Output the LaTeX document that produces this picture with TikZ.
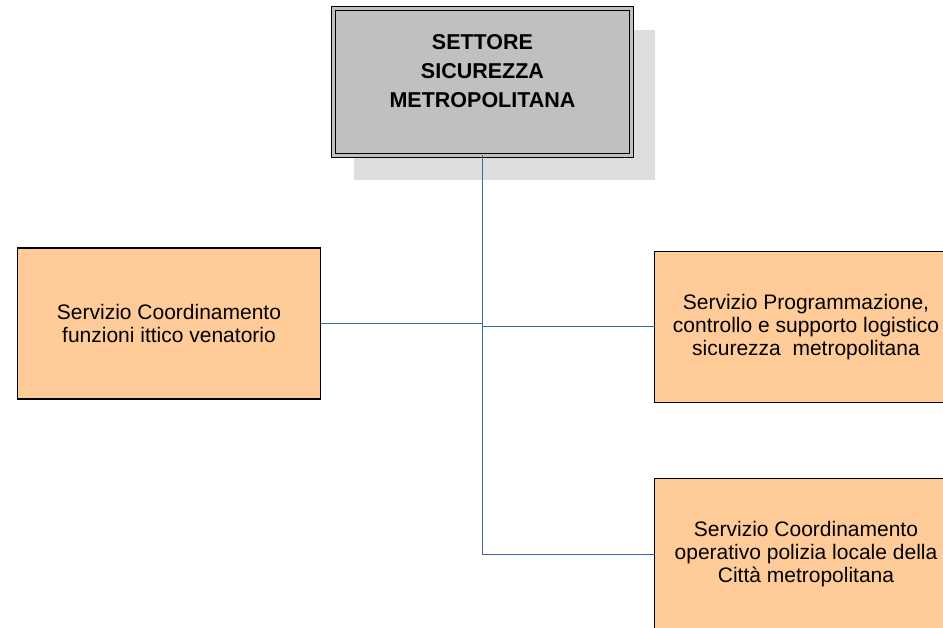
\documentclass[tikz,border=0pt]{standalone}
\usepackage{fontspec}
\setmainfont{Liberation Sans}
\definecolor{peach}{HTML}{FFCC99}
\definecolor{titlegray}{HTML}{C0C0C0}
\definecolor{shadowgray}{HTML}{DDDDDD}
\definecolor{connblue}{RGB}{56,104,176}
\tikzset{
  titlebox/.style={draw=black, line width=1.3pt, double=titlegray, double distance=3pt,
    fill=titlegray, minimum width=298pt, minimum height=147pt, outer sep=0pt, inner sep=0pt},
  titletext/.style={align=center, font=\fontsize{21.5}{29}\selectfont\bfseries, inner sep=0pt},
  unitbox/.style={draw=black, line width=1.3pt, fill=peach, minimum width=303pt,
    minimum height=151pt, outer sep=0pt, inner sep=0pt, align=center,
    font=\fontsize{21}{23}\selectfont},
  conn/.style={draw=connblue, line width=1pt}
}
\begin{document}
\begin{tikzpicture}[x=1pt,y=-1pt]
\useasboundingbox (0,0) rectangle (943,628);
\fill[white] (0,0) rectangle (943,628);
% title box geometry
\path (482.5,82) node[titlebox, draw=none, fill=none, double=none] (ref) {};
\fill[shadowgray] ([shift={(20.5,21.5)}]ref.north west) rectangle ([shift={(23.5,24.5)}]ref.south east);
\node[titlebox] (top) at (482.5,82) {};
\node[titletext] (toptext) at (482.5,71.5) {SETTORE\\SICUREZZA\\METROPOLITANA};
% unit boxes
\node[unitbox] (left) at (169,323.5) {Servizio Coordinamento\\funzioni ittico venatorio};
\node[unitbox] (right) at (806,327) {Servizio Programmazione,\\controllo e supporto logistico\\sicurezza\ \ metropolitana};
\node[unitbox] (bottom) at (806,554) {Servizio Coordinamento\\operativo polizia locale della\\Città metropolitana};
% connectors
\draw[conn] (top.south) -- (top.south |- bottom.west) -- (bottom.west);
\draw[conn] (top.south |- left.east) -- (left.east);
\draw[conn] (top.south |- right.west) -- (right.west);
\end{tikzpicture}
\end{document}
